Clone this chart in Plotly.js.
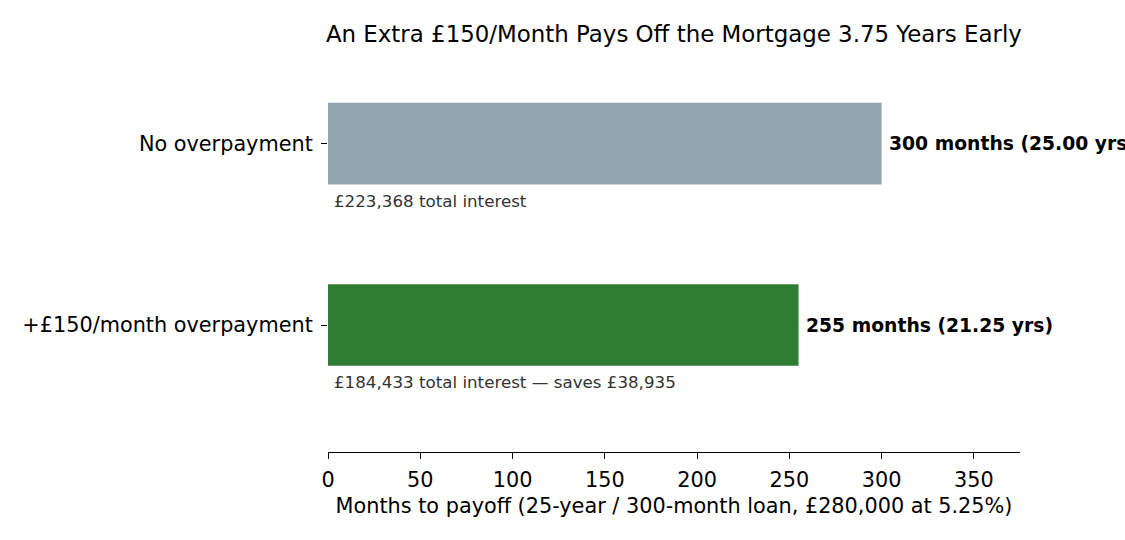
<!DOCTYPE html>
<html>
<head>
<meta charset="utf-8">
<script src="https://cdn.plot.ly/plotly-3.0.1.min.js"></script>
<style>
  html, body { margin: 0; padding: 0; background: #fff; }
  #chart { width: 1125px; height: 540px; }
</style>
</head>
<body>
<div id="chart"></div>
<script>
// scenarios, bottom to top
const scenarios = ['+£150/month overpayment', 'No overpayment'];
const months = [255, 300];
const years = [21.25, 25.00];
const interestNotes = ['£184,433 total interest — saves £38,935', '£223,368 total interest'];
const barColors = ['#2E7D32', '#90A4AE'];

const FONT = 'DejaVu Sans, sans-serif';
const yPos = scenarios.map((s, i) => i);

const trace = {
  type: 'bar',
  orientation: 'h',
  x: months,
  y: yPos,
  width: 0.45,
  marker: { color: barColors, line: { width: 0 } },
  hoverinfo: 'none'
};

const annotations = [];
scenarios.forEach((s, i) => {
  // label at the end of the bar (runs off the right edge, as in the original)
  annotations.push({
    x: months[i] + 2.8, y: yPos[i],
    xref: 'x', yref: 'y',
    text: '<b>' + months[i] + ' months (' + years[i].toFixed(2) + ' yrs)</b>',
    showarrow: false, xanchor: 'left', yanchor: 'middle',
    font: { family: FONT, size: 18.75, color: '#000' }
  });
  // interest note under the bar
  annotations.push({
    x: 2.0, y: yPos[i] - 0.315,
    xref: 'x', yref: 'y',
    text: interestNotes[i],
    showarrow: false, xanchor: 'left', yanchor: 'middle',
    font: { family: FONT, size: 16.7, color: '#333' }
  });
});

const layout = {
  width: 1125, height: 540,
  paper_bgcolor: '#fff', plot_bgcolor: '#fff',
  showlegend: false,
  margin: { l: 328, r: 105, t: 53, b: 88 },
  font: { family: FONT, size: 20.8, color: '#000' },
  title: {
    text: 'An Extra £150/Month Pays Off the Mortgage 3.75 Years Early',
    x: 0.599, xanchor: 'center', y: 0.937, yanchor: 'middle',
    font: { family: FONT, size: 22.9, color: '#000' }
  },
  xaxis: {
    range: [0, 375],
    tickvals: [0, 50, 100, 150, 200, 250, 300, 350],
    ticks: 'outside', ticklen: 6, tickwidth: 1.2, tickcolor: '#000',
    showline: true, linecolor: '#000', linewidth: 1.2,
    showgrid: false, zeroline: false,
    ticklabelstandoff: 3,
    tickfont: { family: FONT, size: 20.8, color: '#000' },
    title: { text: 'Months to payoff (25-year / 300-month loan, £280,000 at 5.25%)', standoff: 7,
             font: { family: FONT, size: 20.8, color: '#000' } }
  },
  yaxis: {
    range: [-0.7, 1.5],
    tickvals: yPos, ticktext: scenarios,
    ticks: 'outside', ticklen: 6, tickwidth: 1.2, tickcolor: '#000',
    showline: false, showgrid: false, zeroline: false,
    ticklabelstandoff: 4,
    tickfont: { family: FONT, size: 20.8, color: '#000' }
  },
  annotations: annotations
};

Plotly.newPlot('chart', [trace], layout, { displayModeBar: false, responsive: false });
</script>
</body>
</html>
